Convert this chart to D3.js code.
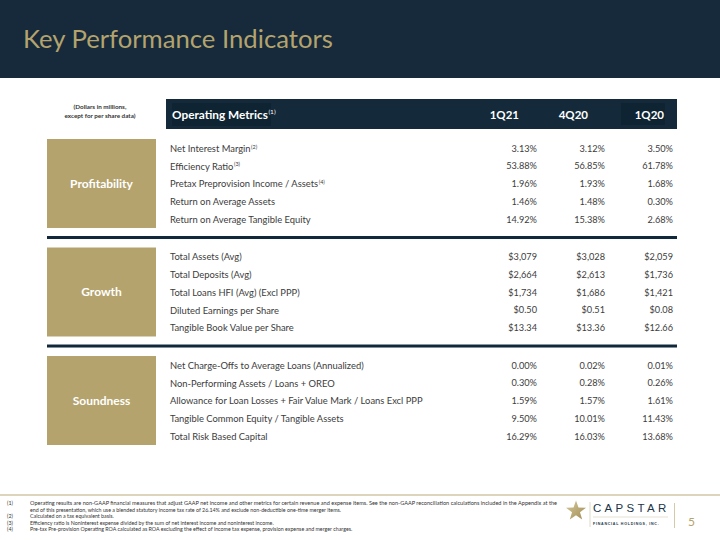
<!DOCTYPE html>
<html><head><meta charset="utf-8">
<script src="https://cdn.jsdelivr.net/npm/d3@7"></script>
<style>body{margin:0;background:#fff}svg{display:block}</style>
</head><body>
<script>
const title = "Key Performance Indicators";
const unitNote = ["(Dollars in millions,", "except for per share data)"];
const headerLabel = "Operating Metrics";
const headerNote = "(1)";
const periods = ["1Q21", "4Q20", "1Q20"];
const groups = ["Profitability", "Growth", "Soundness"];
const metrics = [
  "Net Interest Margin", "Efficiency Ratio", "Pretax Preprovision Income / Assets", "Return on Average Assets", "Return on Average Tangible Equity",
  "Total Assets (Avg)", "Total Deposits (Avg)", "Total Loans HFI (Avg) (Excl PPP)", "Diluted Earnings per Share", "Tangible Book Value per Share",
  "Net Charge-Offs to Average Loans (Annualized)", "Non-Performing Assets / Loans + OREO", "Allowance for Loan Losses + Fair Value Mark / Loans Excl PPP", "Tangible Common Equity / Tangible Assets", "Total Risk Based Capital"
];
const metricNotes = ["(2)", "(3)", "(4)", "", "", "", "", "", "", "", "", "", "", "", ""];
const metricGroup = ["Profitability","Profitability","Profitability","Profitability","Profitability","Growth","Growth","Growth","Growth","Growth","Soundness","Soundness","Soundness","Soundness","Soundness"];
const metricFormat = ["pct","pct","pct","pct","pct","usd0","usd0","usd0","usd2","usd2","pct","pct","pct","pct","pct"];
const values1Q21 = [3.13, 53.88, 1.96, 1.46, 14.92, 3079, 2664, 1734, 0.50, 13.34, 0.00, 0.30, 1.59, 9.50, 16.29];
const values4Q20 = [3.12, 56.85, 1.93, 1.48, 15.38, 3028, 2613, 1686, 0.51, 13.36, 0.02, 0.28, 1.57, 10.01, 16.03];
const values1Q20 = [3.50, 61.78, 1.68, 0.30, 2.68, 2059, 1736, 1421, 0.08, 12.66, 0.01, 0.26, 1.61, 11.43, 13.68];
const footnoteIds = ["(1)", "", "(2)", "(3)", "(4)"];
const footnotes = [
  "Operating results are non-GAAP financial measures that adjust GAAP net income and other metrics for certain revenue and expense items. See the non-GAAP reconciliation calculations included in the Appendix at the",
  "end of this presentation, which use a blended statutory income tax rate of 26.14% and exclude non-deductible one-time merger items.",
  "Calculated on a tax equivalent basis.",
  "Efficiency ratio is Noninterest expense divided by the sum of net interest income and noninterest income.",
  "Pre-tax Pre-provision Operating ROA calculated as ROA excluding the effect of income tax expense, provision expense and merger charges."
];
const pageNumber = "5";

const W = 720, H = 540;
const NAVY = "#162a3b", GOLD = "#b4a36d", TEXT = "#3c3c3c";
const FONT = "Lato, 'Open Sans', sans-serif";

const svg = d3.select("body").append("svg").attr("width", W).attr("height", H)
  .style("font-family", FONT);

// header band
svg.append("rect").attr("x", 0).attr("y", 0).attr("width", W).attr("height", 78).attr("fill", NAVY);
svg.append("text").attr("x", 23).attr("y", 48).attr("font-size", 25.7).attr("fill", GOLD)
  .text(title);

// scales
const xCol = d3.scalePoint().domain(periods).range([537, 673]);
const yGroup = d3.scaleBand().domain(groups).range([139, 445]).paddingInner(0.18).paddingOuter(0);
const yRow = d3.scalePoint().domain(d3.range(5)).range([9.5, 80.5]);
const tableLeft = 47, tableRight = 677, labelX = 170;

// unit note
svg.append("g").selectAll("text").data(unitNote).join("text")
  .attr("x", 100).attr("y", (d, i) => 109 + i * 8.5)
  .attr("text-anchor", "middle").attr("font-size", 6.3).attr("font-weight", 700).attr("fill", "#333")
  .text(d => d);

// column header bar
svg.append("rect").attr("x", 166).attr("y", 99).attr("width", tableRight - 166).attr("height", 30).attr("fill", "#142a3a");
svg.append("rect").attr("x", 172).attr("y", 103).attr("width", 99).attr("height", 23).attr("fill", "#0f2432");
svg.append("rect").attr("x", 621).attr("y", 103).attr("width", 44).attr("height", 22).attr("fill", "#0f2432");
const ht = svg.append("text").attr("x", 172).attr("y", 118.5).attr("font-size", 11.8).attr("font-weight", 700).attr("fill", "#fff");
ht.append("tspan").text(headerLabel);
ht.append("tspan").attr("font-size", 6.5).attr("font-weight", 400).attr("dy", -4.5).attr("dx", 0.5).text(headerNote);
const headerOffset = { "1Q21": -18, "4Q20": -17, "1Q20": -9 };
svg.append("g").selectAll("text").data(periods).join("text")
  .attr("x", d => xCol(d) + headerOffset[d]).attr("y", 118.5)
  .attr("text-anchor", "end").attr("font-size", 11.5).attr("font-weight", 700).attr("fill", "#fff")
  .text(d => d);

// group boxes
const gG = svg.append("g").selectAll("g").data(groups).join("g");
gG.append("rect").attr("x", tableLeft).attr("y", d => yGroup(d)).attr("width", 109).attr("height", yGroup.bandwidth()).attr("fill", GOLD);
gG.append("text").attr("x", tableLeft + 54.5).attr("y", d => yGroup(d) + yGroup.bandwidth() / 2).attr("dy", "0.35em")
  .attr("text-anchor", "middle").attr("font-size", 12).attr("font-weight", 700).attr("fill", "#fff").text(d => d);

// separators
svg.append("g").selectAll("rect").data(groups.slice(1)).join("rect")
  .attr("x", tableLeft).attr("y", d => yGroup(d) - 11.5).attr("width", tableRight - tableLeft).attr("height", 3)
  .attr("fill", "#10283a");

// rows
const rows = metrics.map((m, i) => ({
  label: m, note: metricNotes[i], group: metricGroup[i], fmt: metricFormat[i],
  idx: metricGroup.slice(0, i).filter(g => g === metricGroup[i]).length,
  vals: { "1Q21": values1Q21[i], "4Q20": values4Q20[i], "1Q20": values1Q20[i] }
}));
const fmt = (v, f) => f === "pct" ? d3.format(".2f")(v) + "%" : f === "usd0" ? "$" + d3.format(",.0f")(v) : "$" + d3.format(".2f")(v);
const rowY = r => yGroup(r.group) + yRow(r.idx);

const lab = svg.append("g").selectAll("text").data(rows).join("text")
  .attr("x", labelX).attr("y", rowY).attr("dy", "0.35em")
  .attr("font-size", 9.4).attr("fill", TEXT);
lab.append("tspan").text(d => d.label);
lab.filter(d => d.note).append("tspan").attr("font-size", 5.5).attr("dy", -3.2).attr("dx", 0.5).text(d => d.note);

periods.forEach(p => {
  svg.append("g").selectAll("text").data(rows).join("text")
    .attr("x", xCol(p)).attr("y", rowY).attr("dy", "0.35em")
    .attr("text-anchor", "end").attr("font-size", 9.2).attr("fill", TEXT)
    .text(d => fmt(d.vals[p], d.fmt));
});

// footer
svg.append("rect").attr("x", 0).attr("y", 494.5).attr("width", W).attr("height", 1).attr("fill", "#b9aa78");
const fy = d3.scalePoint().domain(d3.range(footnotes.length)).range([503.5, 529.5]);
svg.append("g").selectAll("text").data(footnoteIds).join("text")
  .attr("x", 7).attr("y", (d, i) => fy(i)).attr("dy", "0.35em").attr("font-size", 5.3).attr("fill", "#333").text(d => d);
svg.append("g").selectAll("text").data(footnotes).join("text")
  .attr("x", 30).attr("y", (d, i) => fy(i)).attr("dy", "0.35em").attr("font-size", 5.3).attr("fill", "#333")
  .attr("textLength", (d, i) => i === 0 ? 527 : null).attr("lengthAdjust", "spacingAndGlyphs")
  .text(d => d);

// logo
const defs = svg.append("defs");
const lg = defs.append("linearGradient").attr("id", "starg").attr("x1", 0).attr("y1", 0).attr("x2", 1).attr("y2", 1);
lg.append("stop").attr("offset", 0).attr("stop-color", "#d6c99c");
lg.append("stop").attr("offset", 1).attr("stop-color", "#a08d55");
const cx = 576, cy = 511, R = 10.5, r = 4.2;
const starPts = d3.range(10).map(k => {
  const a = -Math.PI / 2 + k * Math.PI / 5, rr = k % 2 ? r : R;
  return [cx + rr * Math.cos(a), cy + rr * Math.sin(a)];
});
svg.append("path").attr("d", d3.line()(starPts) + "Z").attr("fill", "url(#starg)");
svg.append("line").attr("x1", 590).attr("x2", 590).attr("y1", 502).attr("y2", 527).attr("stroke", "#c9c0a0").attr("stroke-width", 0.6);
svg.append("text").attr("x", 593).attr("y", 512).attr("font-size", 11.5).attr("fill", "#213447")
  .attr("letter-spacing", 3.3).attr("font-family", "'Liberation Sans', sans-serif").text("CAPSTAR");
svg.append("line").attr("x1", 593).attr("x2", 668).attr("y1", 517).attr("y2", 517).attr("stroke", "#c9c0a0").attr("stroke-width", 0.5);
svg.append("text").attr("x", 593).attr("y", 524.5).attr("font-size", 3.6).attr("font-weight", 700).attr("fill", "#213447")
  .attr("letter-spacing", 0.75).attr("font-family", "'Liberation Sans', sans-serif").text("FINANCIAL HOLDINGS, INC.");
svg.append("line").attr("x1", 674.5).attr("x2", 674.5).attr("y1", 503).attr("y2", 528).attr("stroke", "#c9bc90").attr("stroke-width", 0.8);
svg.append("text").attr("x", 688).attr("y", 521.5).attr("dy", "0.35em").attr("font-size", 12).attr("fill", GOLD).text(pageNumber);
</script>
</body></html>
